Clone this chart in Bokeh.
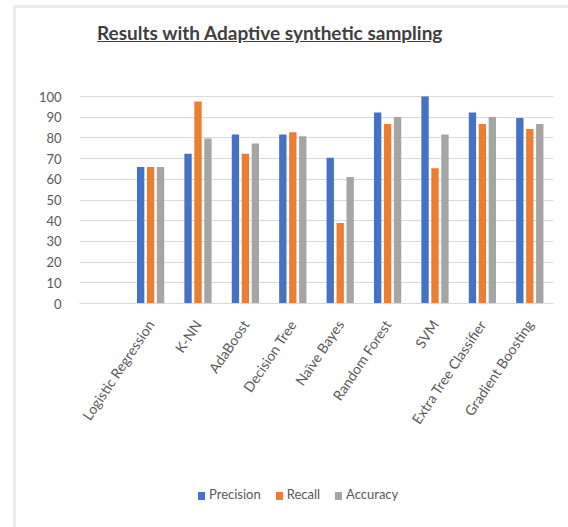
from bokeh.plotting import figure
from bokeh.models import FactorRange, Range1d, ColumnDataSource, Div, FixedTicker
from bokeh.layouts import column
from bokeh.transform import dodge
from bokeh.embed import file_html
from bokeh.resources import INLINE

categories = ["Logistic Regression", "K-NN", "AdaBoost", "Decision Tree", "Naïve Bayes",
              "Random Forest", "SVM", "Extra Tree Classifier", "Gradient Boosting"]
precision = [66, 72.3, 81.6, 81.6, 70.4, 92.3, 100, 92.3, 89.6]
recall = [66, 97.6, 72.3, 82.7, 38.9, 86.7, 65.3, 86.7, 84.3]
accuracy = [66, 79.7, 77.3, 80.8, 61.1, 90.1, 81.6, 90.1, 86.7]
series_names = ["Precision", "Recall", "Accuracy"]
y_ticks = [0, 10, 20, 30, 40, 50, 60, 70, 80, 90, 100]

FONT = "Lato"
GRAY_TXT = "#595959"
colors = ["#4472C4", "#ED7D31", "#A5A5A5"]

source = ColumnDataSource(dict(cat=categories, precision=precision,
                               recall=recall, accuracy=accuracy))

p = figure(width=552, height=400, output_backend="svg", toolbar_location=None,
           x_range=FactorRange(factors=[" "] + categories, range_padding=0),
           y_range=Range1d(0, 100.5),
           min_border_left=63, min_border_right=15, min_border_top=35,
           min_border_bottom=157, margin=0)
p.outline_line_color = None
p.background_fill_color = "white"
p.border_fill_color = "white"

fields = ["precision", "recall", "accuracy"]
offsets = [-0.21, 0.0, 0.21]
for f, c, off in zip(fields, colors, offsets):
    p.vbar(x=dodge("cat", off, range=p.x_range), top=f, width=0.155,
           source=source, fill_color=c, line_color=None)

p.xgrid.grid_line_color = None
p.ygrid.grid_line_color = "#D9D9D9"
p.ygrid.grid_line_width = 1.2
p.yaxis.ticker = FixedTicker(ticks=y_ticks)
p.yaxis.axis_line_color = None
p.yaxis.major_tick_line_color = None
p.yaxis.minor_tick_line_color = None
p.yaxis.major_label_text_font = FONT
p.yaxis.major_label_text_font_size = "13px"
p.yaxis.major_label_text_color = GRAY_TXT
p.yaxis.major_label_standoff = 12

p.xaxis.axis_line_color = "#D9D9D9"
p.xaxis.axis_line_width = 1.2
p.xaxis.major_tick_line_color = None
p.xaxis.minor_tick_line_color = None
p.xaxis.major_label_orientation = 0.98
p.xaxis.major_label_text_font = FONT
p.xaxis.major_label_text_font_size = "14px"
p.xaxis.major_label_text_color = GRAY_TXT
p.xaxis.major_label_standoff = 12

swatch = ('<span style="display:inline-block;width:7px;height:8px;background:{c};'
          'margin-right:4px;vertical-align:-1px"></span>{n}')
legend_html = '<span style="margin-right:15px"></span>'.join(
    swatch.format(c=c, n=n) for c, n in zip(colors, series_names))
legend_div = Div(text=legend_html, width=552, height=67, margin=0,
                 styles={"font-family": FONT, "font-size": "13px", "color": GRAY_TXT,
                         "padding-left": "182px", "padding-top": "25px",
                         "box-sizing": "border-box", "white-space": "nowrap"})

title = Div(text="<u>Results with Adaptive synthetic sampling</u>", width=552, height=52,
            margin=0,
            styles={"font-family": FONT, "font-size": "19px", "font-weight": "bold",
                    "color": "#404040", "text-align": "left", "padding-left": "81px",
                    "padding-top": "11px", "box-sizing": "border-box"})

layout = column(title, p, legend_div, margin=(5, 0, 0, 13),
                styles={"border-left": "3px solid #ECECEC", "border-top": "3px solid #ECECEC"})

open("out.html", "w").write(file_html(layout, INLINE))
